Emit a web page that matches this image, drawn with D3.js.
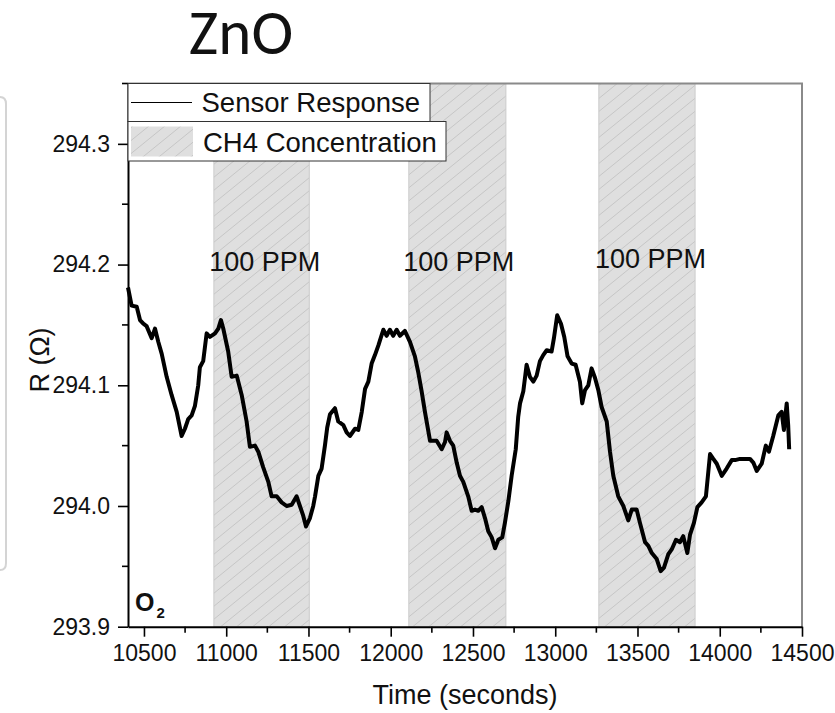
<!DOCTYPE html>
<html lang="en">
	<head>
		<meta charset="utf-8">
		<title>ZnO sensor response</title>
		<script type="text/javascript" src="https://cdn.jsdelivr.net/npm/d3@7"></script>
		<style type="text/css">
			body {
				margin: 0;
				background: #fff;
				}
			svg text {
				font-family: "Liberation Sans", Arial, sans-serif;
				fill: #111;
				}
			.x_axis path, .y_axis path {
				stroke: #000;
				stroke-width: 2px;
				}
			.x_axis line, .y_axis line {
				stroke: #000;
				stroke-width: 1.6px;
				}
			.x_axis text, .y_axis text {
				font-size: 23px;
				}
		</style>
	</head>
	<body>
		<script type="text/javascript">

			var w = 835;
			var h = 713;

			// data
			var timeS = [
				10403,10425,10456,10476,10496,10516,10547,10567,10587,10608,
				10638,10668,10699,10729,10749,10769,10790,10810,10830,10840,
				10860,10881,10901,10932,10952,10968,10982,11012,11033,11064,
				11094,11124,11144,11175,11195,11225,11256,11276,11307,11337,
				11367,11398,11428,11448,11468,11485,11509,11529,11540,11560,
				11580,11600,11614,11631,11661,11681,11712,11732,11752,11783,
				11803,11824,11844,11864,11884,11904,11925,11955,11975,11995,
				12015,12036,12056,12086,12117,12147,12167,12188,12208,12239,
				12279,12310,12330,12340,12360,12380,12401,12421,12441,12471,
				12492,12512,12532,12553,12573,12593,12614,12634,12654,12678,
				12694,12715,12735,12760,12775,12786,12806,12826,12846,12867,
				12887,12907,12927,12948,12978,12992,13012,13035,13055,13075,
				13100,13124,13150,13164,13181,13201,13221,13242,13262,13282,
				13313,13333,13353,13383,13414,13444,13465,13495,13515,13546,
				13566,13587,13617,13641,13661,13687,13708,13734,13758,13778,
				13803,13819,13843,13864,13890,13916,13941,13961,13982,14012,
				14042,14073,14093,14123,14184,14204,14225,14255,14280,14299,
				14325,14356,14376,14390,14407,14416,14422
				];

			var resistance = [
				294.181,294.166,294.165,294.154,294.151,294.149,294.139,294.147,294.136,294.126,
				294.107,294.092,294.078,294.058,294.064,294.072,294.075,294.083,294.100,294.115,
				294.120,294.143,294.140,294.143,294.147,294.154,294.147,294.128,294.107,294.108,
				294.092,294.070,294.049,294.050,294.045,294.032,294.020,294.008,294.008,294.003,
				294.000,294.001,294.008,294.000,293.992,293.983,293.990,294.000,294.008,294.025,
				294.031,294.050,294.065,294.076,294.081,294.070,294.067,294.061,294.058,294.064,
				294.063,294.078,294.097,294.103,294.118,294.125,294.133,294.146,294.141,294.146,
				294.141,294.146,294.141,294.145,294.136,294.124,294.111,294.095,294.078,294.054,
				294.054,294.047,294.053,294.061,294.054,294.050,294.036,294.025,294.020,294.008,
				293.996,293.997,293.996,293.999,293.990,293.979,293.974,293.965,293.972,293.974,
				293.986,294.004,294.025,294.047,294.074,294.085,294.095,294.117,294.107,294.103,
				294.108,294.120,294.125,294.129,294.128,294.139,294.158,294.151,294.140,294.124,
				294.118,294.117,294.103,294.085,294.096,294.100,294.114,294.106,294.096,294.082,
				294.070,294.045,294.025,294.008,294.000,293.988,293.997,293.997,293.986,293.970,
				293.967,293.961,293.956,293.946,293.949,293.960,293.964,293.972,293.970,293.975,
				293.961,293.976,293.986,293.999,294.003,294.008,294.043,294.039,294.035,294.025,
				294.031,294.038,294.038,294.039,294.039,294.036,294.029,294.035,294.050,294.045,
				294.058,294.075,294.078,294.063,294.085,294.067,294.047
				];

			// CH4 exposure windows
			var bandStart = [10925, 12110, 13265];
			var bandEnd = [11505, 12700, 13850];
			var bandLabels = ["100 PPM", "100 PPM", "100 PPM"];
			var bandLabelX = [10897, 12076, 13242];
			var bandLabelY = [294.195, 294.195, 294.197];

			var xTicks = [10500, 11000, 11500, 12000, 12500, 13000, 13500, 14000, 14500];
			var yTicks = [293.9, 294.0, 294.1, 294.2, 294.3];
			var legendNames = ["Sensor Response", "CH4 Concentration"];

			var points = timeS.map(function(t, i){ return [t, resistance[i]]; });
			var bands = bandStart.map(function(s, i){
				return {start: s, end: bandEnd[i], label: bandLabels[i], lx: bandLabelX[i], ly: bandLabelY[i]};
				});

			var plotLeft = 128, plotRight = 802, plotTop = 83.5, plotBottom = 626.7;

			var xScale = d3.scaleLinear()
					.domain([10403, 14500])
					.range([plotLeft, plotRight]);

			var yScale = d3.scaleLinear()
					.domain([293.9, 294.35])
					.range([plotBottom, plotTop]);

			var svg = d3.select("body")
						.append("svg")
						.attr("width", w)
						.attr("height", h);

			var defs = svg.append("defs");
			var hatch = defs.append("pattern")
				.attr("id", "hatch")
				.attr("patternUnits", "userSpaceOnUse")
				.attr("width", 16)
				.attr("height", 13);
			hatch.append("rect")
				.attr("width", 16).attr("height", 13)
				.attr("fill", "#dfdfdf");
			hatch.append("path")
				.attr("d", "M0,13 L16,0 M-4,3.25 L4,-3.25 M12,16.25 L20,9.75")
				.attr("stroke", "#c6c6c6")
				.attr("stroke-width", 1);

			// edge of the neighbouring panel
			svg.append("path")
				.attr("d", "M0,97 Q6,97 6,104 L6,563 Q6,570 0,570")
				.attr("fill", "none")
				.attr("stroke", "#d4d4d4")
				.attr("stroke-width", 2);

			// title
			svg.append("text")
				.attr("x", 241)
				.attr("y", 54)
				.attr("text-anchor", "middle")
				.style("font-family", "Carlito, Calibri, Lato, sans-serif")
				.style("font-size", "63px")
				.text("ZnO");

			// shaded gas windows
			svg.selectAll("rect.band")
				.data(bands)
				.enter()
				.append("rect")
				.attr("class", "band")
				.attr("x", function(d){ return xScale(d.start); })
				.attr("y", plotTop)
				.attr("width", function(d){ return xScale(d.end) - xScale(d.start); })
				.attr("height", plotBottom - plotTop)
				.attr("fill", "url(#hatch)")
				.attr("stroke", "#cbcbcb")
				.attr("stroke-width", 1);

			svg.selectAll("text.band_label")
				.data(bands)
				.enter()
				.append("text")
				.attr("class", "band_label")
				.attr("x", function(d){ return xScale(d.lx); })
				.attr("y", function(d){ return yScale(d.ly); })
				.style("font-size", "27px")
				.text(function(d){ return d.label; });

			// frame top and right
			svg.append("path")
				.attr("d", "M" + plotLeft + "," + plotTop + " L" + plotRight + "," + plotTop + " L" + plotRight + "," + plotBottom)
				.attr("fill", "none")
				.attr("stroke", "#8a8a8a")
				.attr("stroke-width", 2);

			var line = d3.line()
				.x(function(d){ return xScale(d[0]); })
				.y(function(d){ return yScale(d[1]); });

			svg.append("path")
				.datum(points)
				.attr("d", line)
				.attr("fill", "none")
				.attr("stroke", "#000")
				.attr("stroke-width", 4)
				.attr("stroke-linejoin", "round");

			// axes with minor ticks
			var xMinor = d3.range(10750, 14500, 500);
			var yMinor = [293.95, 294.05, 294.15, 294.25, 294.35];

			var xAxis = d3.axisBottom(xScale)
					.tickValues(xTicks)
					.tickFormat(d3.format("d"))
					.tickSize(10)
					.tickSizeOuter(0)
					.tickPadding(8);

			var yAxis = d3.axisLeft(yScale)
					.tickValues(yTicks)
					.tickFormat(d3.format(".1f"))
					.tickSize(10)
					.tickSizeOuter(0)
					.tickPadding(8);

			var gx = svg.append("g")
				.attr("class", "x_axis")
				.attr("transform", "translate(0," + plotBottom + ")")
				.call(xAxis);
			gx.selectAll(".minor")
				.data(xMinor)
				.enter()
				.append("line")
				.attr("class", "minor")
				.attr("x1", function(d){ return xScale(d); })
				.attr("x2", function(d){ return xScale(d); })
				.attr("y1", 0)
				.attr("y2", 6);

			var gy = svg.append("g")
				.attr("class", "y_axis")
				.attr("transform", "translate(" + plotLeft + ",0)")
				.call(yAxis);
			gy.selectAll(".minor")
				.data(yMinor)
				.enter()
				.append("line")
				.attr("class", "minor")
				.attr("y1", function(d){ return yScale(d); })
				.attr("y2", function(d){ return yScale(d); })
				.attr("x1", 0)
				.attr("x2", -6);

			// axis titles
			svg.append("text")
				.attr("x", (plotLeft + plotRight) / 2)
				.attr("y", 704)
				.attr("text-anchor", "middle")
				.style("font-size", "27px")
				.text("Time (seconds)");

			svg.append("text")
				.attr("transform", "translate(49,360) rotate(-90)")
				.attr("text-anchor", "middle")
				.style("font-size", "27px")
				.text("R (\u03A9)");

			// O2 marker
			var o2 = svg.append("text")
				.attr("x", 135)
				.attr("y", 611)
				.style("font-size", "25px")
				.style("font-weight", "bold");
			o2.append("tspan").text("O");
			o2.append("tspan")
				.attr("dy", 7)
				.attr("dx", 2)
				.style("font-size", "15px")
				.text("2");

			// legend
			var legendBox = [[128, 83.5, 302, 38], [128, 121.5, 318, 39.5]];
			var legend = svg.selectAll("g.legend")
				.data(legendNames)
				.enter()
				.append("g")
				.attr("class", "legend");

			legend.append("rect")
				.attr("x", function(d, i){ return legendBox[i][0]; })
				.attr("y", function(d, i){ return legendBox[i][1]; })
				.attr("width", function(d, i){ return legendBox[i][2]; })
				.attr("height", function(d, i){ return legendBox[i][3]; })
				.attr("fill", "#fff")
				.attr("stroke", "#333")
				.attr("stroke-width", 1);

			legend.filter(function(d, i){ return i === 0; })
				.append("line")
				.attr("x1", 131).attr("x2", 192)
				.attr("y1", 102.5).attr("y2", 102.5)
				.attr("stroke", "#000")
				.attr("stroke-width", 1.2);

			legend.filter(function(d, i){ return i === 1; })
				.append("rect")
				.attr("x", 131).attr("y", 126.5)
				.attr("width", 62).attr("height", 30)
				.attr("fill", "url(#hatch)");

			legend.append("text")
				.attr("x", function(d, i){ return i === 0 ? 201.5 : 203; })
				.attr("y", function(d, i){ return i === 0 ? 112 : 152; })
				.style("font-size", "27.5px")
				.text(function(d){ return d; });

		</script>
	</body>
</html>
